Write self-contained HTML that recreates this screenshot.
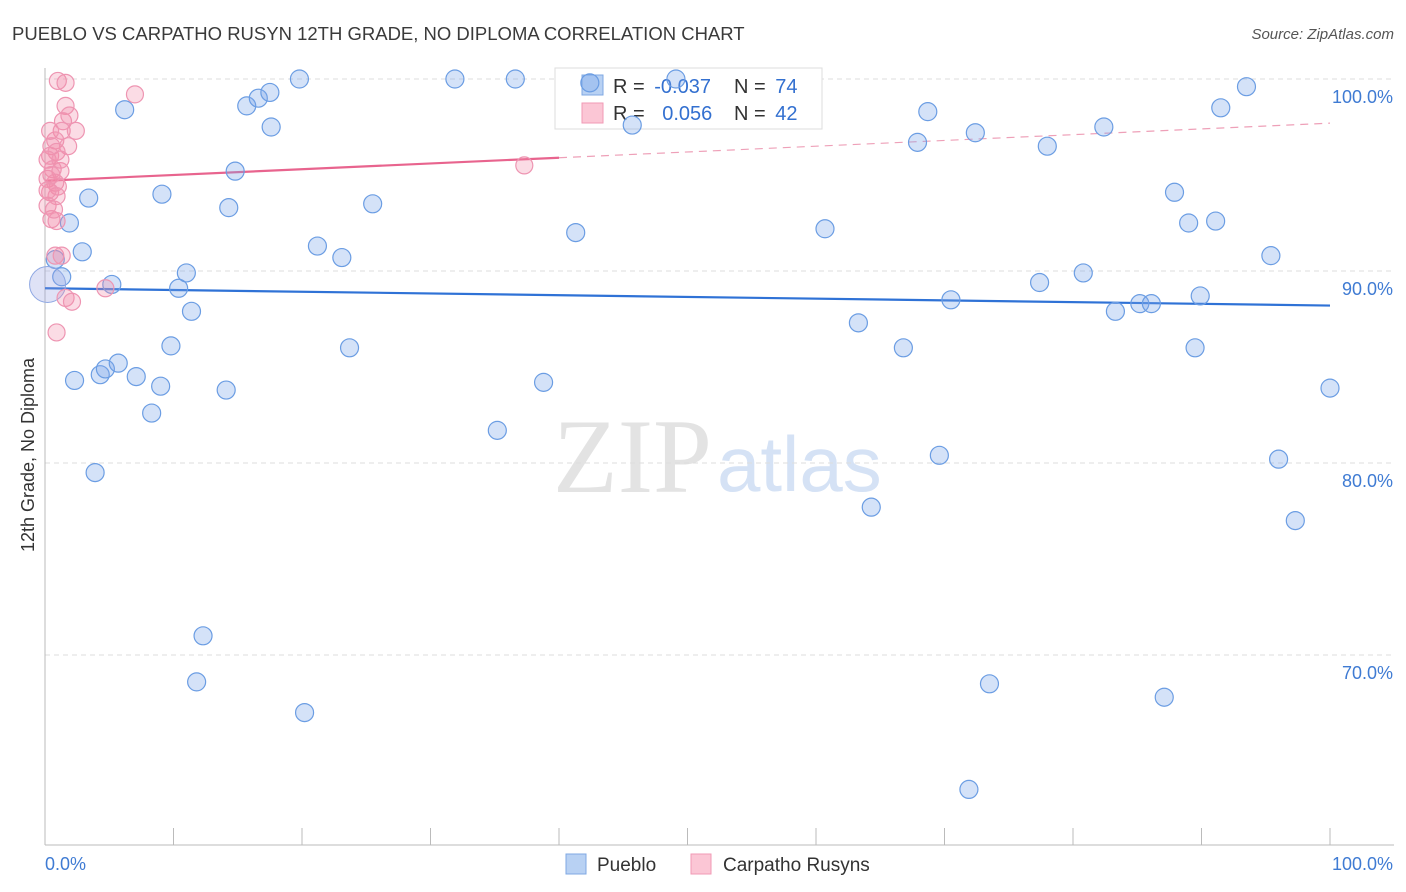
<!DOCTYPE html>
<html><head><meta charset="utf-8"><style>
body{margin:0;background:#fff;font-family:"Liberation Sans",sans-serif}
svg{display:block}
</style></head><body>
<svg id="c" width="1406" height="892" xmlns="http://www.w3.org/2000/svg">
<text x="12" y="40" font-size="18.5" fill="#3a3a3a">PUEBLO VS CARPATHO RUSYN 12TH GRADE, NO DIPLOMA CORRELATION CHART</text>
<text x="1394" y="39" font-size="15" fill="#555" font-style="italic" text-anchor="end">Source: ZipAtlas.com</text>
<text x="34" y="455" font-size="18" fill="#333" text-anchor="middle" transform="rotate(-90 34 455)">12th Grade, No Diploma</text>
<g><text x="553" y="492" font-size="106" font-family="Liberation Serif,serif" fill="#e3e3e3">ZIP</text><text x="717" y="491" font-size="78" fill="#d5e2f5">atlas</text></g>
<g id="grid"></g><g id="axes"></g>
<g>
<rect x="555" y="68" width="267" height="61" fill="#fff" stroke="#ddd"/>
<rect x="582" y="75" width="21" height="20" fill="#b8d1f3" stroke="#7fa8e3"/>
<rect x="582" y="103" width="21" height="20" fill="#fbc6d5" stroke="#f09ab5"/>
<text x="613" y="93" font-size="20" fill="#333">R = <tspan fill="#3370d0" dx="4">-0.037</tspan></text>
<text x="734" y="93" font-size="20" fill="#333">N = <tspan fill="#3370d0" dx="4">74</tspan></text>
<text x="613" y="120" font-size="20" fill="#333">R = <tspan fill="#3370d0" dx="12">0.056</tspan></text>
<text x="734" y="120" font-size="20" fill="#333">N = <tspan fill="#3370d0" dx="4">42</tspan></text>
</g>
<g id="trend"></g><g id="pts"></g>
<g>
<rect x="566" y="854" width="20" height="20" fill="#b8d1f3" stroke="#7fa8e3"/>
<text x="597" y="871" font-size="19" fill="#333">Pueblo</text>
<rect x="691" y="854" width="20" height="20" fill="#fbc6d5" stroke="#f09ab5"/>
<text x="723" y="871" font-size="19" fill="#333">Carpatho Rusyns</text>
</g>
</svg>
<script>
const blueX=[3.4,6.2,1.9,2.9,1.3,0.8,5.2,2.3,4.3,4.7,5.7,7.1,3.9,8.3,9.0,9.8,9.1,10.4,11.0,11.4,12.3,11.8,14.1,14.3,14.8,15.7,16.6,17.5,17.6,19.8,20.2,21.2,23.1,23.7,25.5,31.9,35.2,36.6,38.8,41.3,42.4,45.7,49.1,60.7,63.3,64.3,66.8,67.9,68.7,69.6,70.5,72.4,73.5,71.9,77.4,78.0,80.8,82.4,83.3,85.2,86.1,87.1,87.9,89.0,89.5,89.9,91.1,91.5,93.5,95.4,96.0,97.3,100];
const blueY=[93.8,98.4,92.5,91.0,89.7,90.6,89.3,84.3,84.6,84.9,85.2,84.5,79.5,82.6,84.0,86.1,94.0,89.1,89.9,87.9,71.0,68.6,83.8,93.3,95.2,98.6,99.0,99.3,97.5,100,67.0,91.3,90.7,86.0,93.5,100,81.7,100,84.2,92.0,99.8,97.6,100,92.2,87.3,77.7,86.0,96.7,98.3,80.4,88.5,97.2,68.5,63.0,89.4,96.5,89.9,97.5,87.9,88.3,88.3,67.8,94.1,92.5,86.0,88.7,92.6,98.5,99.6,90.8,80.2,77.0,83.9];
const pinkX=[1.0,1.6,7.0,1.6,1.4,1.3,2.4,0.8,0.5,1.8,0.4,0.9,0.2,0.6,1.2,0.2,0.8,1.0,0.4,0.9,0.2,0.5,0.9,0.8,1.3,1.6,2.1,4.7,0.9,37.3,0.4,0.7,1.2,0.2,0.5,1.9];
const pinkY=[99.9,99.8,99.2,98.6,97.8,97.3,97.3,96.8,96.5,96.5,96.0,96.2,95.8,95.3,95.2,94.8,94.6,94.4,94.1,93.9,93.4,92.7,92.6,90.8,90.8,88.6,88.4,89.1,86.8,95.5,97.3,93.2,95.8,94.2,95.0,98.1];
const blueTrend=[89.1,88.2];
const pinkTrend=[94.7,97.7];
const yTicks=[100,90,80,70];
const yTickLabels=["100.0%","90.0%","80.0%","70.0%"];
const xTicks=[0,10,20,30,40,50,60,70,80,90,100];
const NS="http://www.w3.org/2000/svg";
const X=v=>45+v*12.85, Y=v=>79+(100-v)*19.2;
function mk(t,a,p){const e=document.createElementNS(NS,t);for(const k in a)e.setAttribute(k,a[k]);document.getElementById(p).appendChild(e);return e;}
yTicks.forEach((t,i)=>{
 const g=mk('line',{x1:45,x2:1394,y1:Y(t),y2:Y(t),stroke:'#ddd','stroke-dasharray':'5,4'},'grid');
 
 
 const l=mk('text',{x:1393,y:Y(t)+24,'font-size':18,fill:'#3f7bd3','text-anchor':'end'},'grid');
 l.textContent=yTickLabels[i];
 
 
});
const ya=mk('line',{x1:45,x2:45,y1:68,y2:845,stroke:'#bbb'},'axes');


const xa=mk('line',{x1:45,x2:1394,y1:845,y2:845,stroke:'#bbb'},'axes');


xTicks.forEach(t=>{const k=mk('line',{x1:X(t),x2:X(t),y1:828,y2:845,stroke:'#bbb'},'axes');
 
 });
const x0=mk('text',{x:45,y:870,'font-size':18,fill:'#3f7bd3'},'axes');x0.textContent='0.0%';


const x1=mk('text',{x:1393,y:870,'font-size':18,fill:'#3f7bd3','text-anchor':'end'},'axes');x1.textContent='100.0%';


blueX.forEach((v,i)=>{const c=mk('circle',{cx:X(v),cy:Y(blueY[i]),r:9,fill:'rgba(120,165,232,0.32)',stroke:'#6b9de3','stroke-width':1.2},'pts');
 
 });
const big=mk('circle',{cx:X(0.2),cy:Y(89.3),r:18,fill:'rgba(150,160,225,0.3)',stroke:'#8fa8e3'},'pts');


pinkX.forEach((v,i)=>{const c=mk('circle',{cx:X(v),cy:Y(pinkY[i]),r:8.5,fill:'rgba(243,140,170,0.3)',stroke:'#ee95b2','stroke-width':1.2},'pts');
 
 });
const bt=mk('line',{x1:X(0),x2:X(100),y1:Y(blueTrend[0]),y2:Y(blueTrend[1]),stroke:'#2f72d6','stroke-width':2.2},'trend');


const pm=pinkTrend[0]+(pinkTrend[1]-pinkTrend[0])*0.4;
const pt=mk('line',{x1:X(0),x2:X(40),y1:Y(pinkTrend[0]),y2:Y(pm),stroke:'#e8648e','stroke-width':2.2},'trend');


const pd=mk('line',{x1:X(40),x2:X(100),y1:Y(pm),y2:Y(pinkTrend[1]),stroke:'#eea0b8','stroke-width':1.2,'stroke-dasharray':'8,6'},'trend');


</script>
</body></html>
